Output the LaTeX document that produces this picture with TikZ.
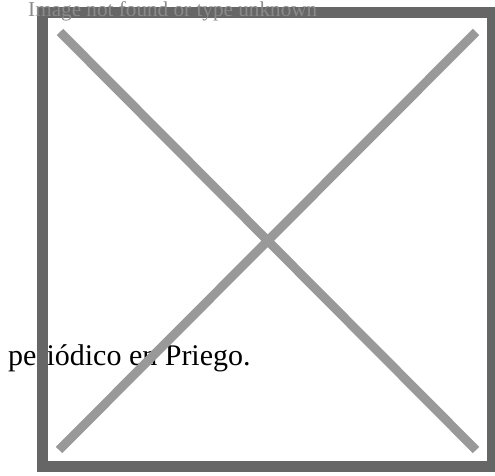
\documentclass[tikz,border=0pt]{standalone}
\usepackage{fontspec}
\setmainfont{Liberation Serif}
\definecolor{framegray}{HTML}{666666}
\definecolor{xgray}{HTML}{999999}
\definecolor{textgray}{HTML}{8A8A8A}
\begin{document}
\begin{tikzpicture}[x=1pt,y=1pt,
  framebox/.style={draw=framegray,line width=11pt},
  crossline/.style={draw=xgray,line width=9pt},
  captiontext/.style={inner sep=0pt,anchor=base west}]
\useasboundingbox (0,0) rectangle (495,476);
\clip (0,0) rectangle (495,476);
\node[captiontext,font=\fontsize{30}{36}\selectfont] (cap) at (8,110) {periódico en Priego.};
\draw[framebox] (42.5,9) rectangle (492.5,463.5);
\coordinate (tl) at (60,444);
\coordinate (tr) at (476,444);
\coordinate (bl) at (59,26);
\coordinate (br) at (476,26);
\draw[crossline] (tl) -- (br);
\draw[crossline] (tr) -- (bl);
\node[captiontext,font=\fontsize{21.2}{25}\selectfont,text=textgray] (msg) at (28,459) {Image not found or type unknown};
\end{tikzpicture}
\end{document}
